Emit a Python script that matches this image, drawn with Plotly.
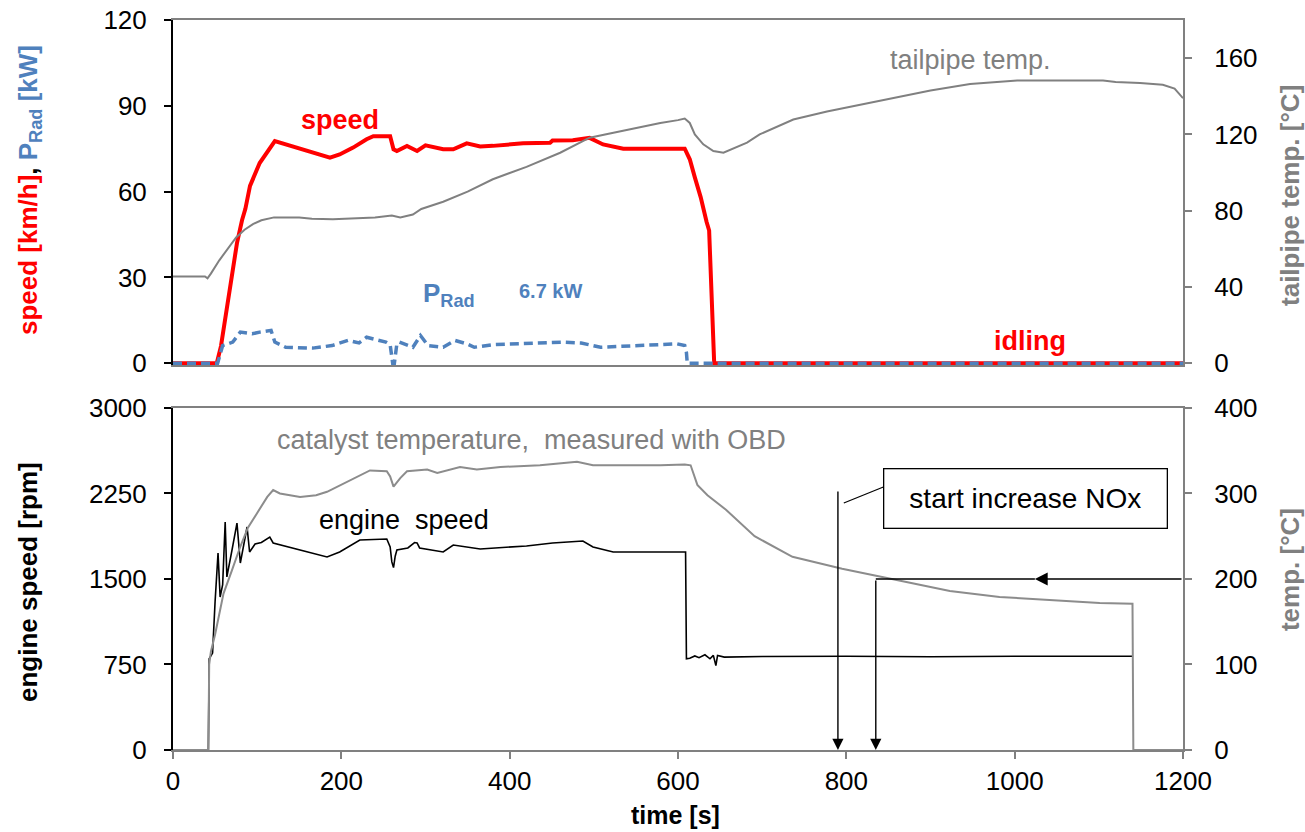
import plotly.graph_objects as go

# ---------------- data ----------------
# top panel: vehicle speed [km/h]
speed_t = [0, 52, 57, 63, 69, 76, 82, 86, 91.5, 103, 121, 135, 159, 186.5, 198, 214, 230, 238, 258, 262, 266,
           278, 290, 300, 321, 333, 349, 365, 380, 416, 448, 451, 475, 495, 511, 520, 535, 608, 614, 620,
           627, 634, 637, 643, 1200]
speed_v = [0, 0, 6, 18, 30, 42, 50, 54, 62, 70, 77.7, 76.5, 74.2, 71.9, 73, 75.4, 78.3, 79.4, 79.4, 74.8, 74.2,
           76, 74.2, 76.2, 74.8, 74.8, 76.9, 75.8, 76, 76.9, 77.1, 77.9, 78, 78.8, 76.5, 76, 75, 75, 71.3, 65,
           58, 49.4, 46.4, 0, 0]

# top panel: radiator power P_Rad [kW]
prad_t = [0, 53, 59, 71, 80, 94, 103, 116.5, 121, 134, 166, 189, 208, 221, 230, 253, 258, 261, 263, 266,
          269, 285, 294, 303, 321, 335, 349, 358, 380, 417, 462, 485, 508, 554, 576, 599, 608, 610, 611, 1200]
prad_v = [0, 0, 6.2, 7.4, 10.9, 10.3, 10.9, 11.5, 7.4, 5.6, 5.3, 6.2, 8.0, 7.1, 9.1, 7.4, 6.5, 0, 0, 6.8,
          7.4, 5.6, 9.7, 6.2, 5.6, 8.0, 6.8, 5.6, 6.5, 6.8, 7.4, 7.1, 5.6, 6.2, 6.5, 6.8, 6.2, 3.8, 0, 0]

# top panel: tailpipe temperature [°C]
tail_t = [0, 38, 41, 45, 55, 65, 75, 85, 95, 105, 120, 150, 165, 190, 210, 240, 260, 270, 285, 295, 321,
          350, 380, 420, 460, 495, 519, 579, 600, 608, 614, 620, 630, 642, 654, 670, 682, 697, 737, 777,
          816, 860, 900, 947, 1003, 1105, 1120, 1149, 1176, 1190, 1200]
tail_v = [45.5, 45.5, 44.5, 47, 54, 60, 66, 70, 73, 75, 76.5, 76.5, 75.8, 75.5, 76, 76.5, 77.5, 76.5, 78, 80.9,
          84.7, 90, 96.5, 103, 110.4, 118.3, 120.5, 126, 127.5, 128.3, 126, 120, 114.8, 111.3, 110.4, 113.2,
          115.7, 120, 127.8, 132, 135.6, 139.5, 143, 146.4, 148.3, 148.3, 147.5, 147, 146, 144, 139]

# bottom panel: engine speed [rpm]
eng_t = [0, 42, 43, 47, 50, 53.5, 56, 59, 62, 64, 70, 76, 80, 84, 88, 91, 97.5, 105, 115, 119, 143, 165,
         183, 198, 222, 254, 258, 260, 262, 264, 266, 279, 287, 290, 293, 321, 333, 365, 420, 451, 487,
         499, 523, 609, 610, 614, 620, 625, 632, 638, 642, 645, 647, 655, 700, 800, 900, 1000, 1100, 1140]
eng_v = [0, 0, 800, 850, 1300, 1727, 1342, 1450, 2000, 1518, 1750, 1991, 1640, 1800, 1956, 1737, 1807, 1820,
         1868, 1816, 1772, 1730, 1693, 1737, 1842, 1851, 1781, 1650, 1600, 1700, 1754, 1772, 1820, 1816,
         1772, 1737, 1798, 1763, 1790, 1816, 1833, 1781, 1737, 1737, 800, 805, 825, 810, 835, 800, 830, 740,
         830, 815, 820, 822, 818, 822, 820, 822]

# bottom panel: catalyst temperature (OBD) [°C]
cat_t = [0, 42, 43, 45, 50, 60, 70, 80, 89, 103, 112, 119, 127, 151, 170, 183, 207, 234, 254, 258, 262, 270,
         278, 302, 314, 341, 361, 389, 436, 480, 499, 579, 608, 615, 623, 635, 657, 691, 736, 795, 844, 923,
         982, 1056, 1101, 1140, 1141, 1200]
cat_v = [0, 0, 100, 115, 135, 183, 210, 238, 260, 281, 296, 304, 300, 296, 298, 302, 314, 327, 326, 320, 308,
         318, 326, 328, 324, 331, 328, 331, 333, 337, 333, 333, 334, 333, 310, 298, 281, 250, 226, 212, 202,
         186, 179, 175, 172, 171, 0, 0]

x_ticks = [0, 200, 400, 600, 800, 1000, 1200]
speed_ticks = [0, 30, 60, 90, 120]
tail_ticks = [0, 40, 80, 120, 160]
rpm_ticks = [0, 750, 1500, 2250, 3000]
temp_ticks = [0, 100, 200, 300, 400]

# NOx markers
nox_t1, nox_t2 = 790, 835
nox_temp = 200

RED = "#FF0000"
BLUE = "#4F81BD"
GREY = "#808080"
FONT = "Arial, Liberation Sans, sans-serif"

fig = go.Figure()
fig.add_trace(go.Scatter(x=speed_t, y=speed_v, xaxis="x2", yaxis="y", mode="lines",
                         line=dict(color=RED, width=4), name="speed"))
fig.add_trace(go.Scatter(x=prad_t, y=prad_v, xaxis="x2", yaxis="y", mode="lines",
                         line=dict(color=BLUE, width=3.5, dash="9px,5px"), name="P_Rad"))
fig.add_trace(go.Scatter(x=tail_t, y=tail_v, xaxis="x2", yaxis="y2", mode="lines",
                         line=dict(color=GREY, width=2), name="tailpipe temp."))
fig.add_trace(go.Scatter(x=eng_t, y=eng_v, xaxis="x", yaxis="y3", mode="lines",
                         line=dict(color="black", width=1.6), name="engine speed"))
fig.add_trace(go.Scatter(x=cat_t, y=cat_v, xaxis="x", yaxis="y4", mode="lines",
                         line=dict(color="#8C8C8C", width=2), name="catalyst temp."))

TS = 26
tickfont = dict(family=FONT, size=TS, color="black")
top_dom = [0.5274, 1.0]
bot_dom = [0.0, 0.4685]

fig.update_layout(
    width=1305, height=832,
    margin=dict(l=173, r=122, t=20, b=82, autoexpand=False),
    paper_bgcolor="white", plot_bgcolor="white",
    showlegend=False,
    font=dict(family=FONT, size=TS, color="black"),
    xaxis=dict(domain=[0, 1], anchor="y3", range=[0, 1200], tickvals=x_ticks, showgrid=False,
               zeroline=False, showline=True, linecolor=GREY, linewidth=2, mirror=True,
               ticks="outside", ticklen=7, tickcolor=GREY, tickwidth=1.5, tickfont=tickfont,
               layer="below traces", automargin=False),
    xaxis2=dict(domain=[0, 1], anchor="y", matches="x", range=[0, 1200], showticklabels=False,
                showgrid=False, zeroline=False, showline=True, linecolor=GREY, linewidth=2,
                mirror=True, ticks="", layer="below traces", automargin=False),
    yaxis=dict(domain=top_dom, anchor="x2", range=[-0.6, 120], tickvals=speed_ticks, showgrid=False,
               zeroline=False, showline=True, linecolor="black", linewidth=2, ticks="outside",
               ticklen=7, tickcolor="black", tickwidth=1.5, tickfont=tickfont, ticklabelstandoff=12,
               layer="below traces", automargin=False),
    yaxis2=dict(domain=top_dom, anchor="x2", overlaying="y", side="right", range=[-0.9, 180],
                tickvals=tail_ticks, showgrid=False, zeroline=False, showline=True, linecolor=GREY,
                linewidth=2, ticks="outside", ticklen=7, tickcolor=GREY, tickwidth=1.5,
                tickfont=tickfont, ticklabelstandoff=17, layer="below traces", automargin=False),
    yaxis3=dict(domain=bot_dom, anchor="x", range=[0, 3000], tickvals=rpm_ticks, showgrid=False,
                zeroline=False, showline=True, linecolor="black", linewidth=2, ticks="outside",
                ticklen=7, tickcolor="black", tickwidth=1.5, tickfont=tickfont, ticklabelstandoff=12,
                layer="below traces", automargin=False),
    yaxis4=dict(domain=bot_dom, anchor="x", overlaying="y3", side="right", range=[0, 400],
                tickvals=temp_ticks, showgrid=False, zeroline=False, showline=True, linecolor=GREY,
                linewidth=2, ticks="outside", ticklen=7, tickcolor=GREY, tickwidth=1.5,
                tickfont=tickfont, ticklabelstandoff=17, layer="below traces", automargin=False),
)

C = dict(xanchor="center", yanchor="middle")
ann = []
# axis titles
ann.append(dict(xref="paper", yref="paper", x=-0.1426, y=0.767, textangle=-90, showarrow=False,
                text='<b><span style="color:#FF0000">speed [km/h]</span>, '
                     '<span style="color:#4F81BD">P<sub>Rad</sub> [kW]</span></b>',
                font=dict(family=FONT, size=26, color="black"), **C))
ann.append(dict(xref="paper", yref="paper", x=1.106, y=0.759, textangle=-90, showarrow=False,
                text="<b>tailpipe temp. [°C]</b>", font=dict(family=FONT, size=26, color=GREY), **C))
ann.append(dict(xref="paper", yref="paper", x=-0.1436, y=0.23, textangle=-90, showarrow=False,
                text="<b>engine speed [rpm]</b>", font=dict(family=FONT, size=26, color="black"), **C))
ann.append(dict(xref="paper", yref="paper", x=1.106, y=0.2466, textangle=-90, showarrow=False,
                text="<b>temp. [°C]</b>", font=dict(family=FONT, size=26, color=GREY), **C))
ann.append(dict(xref="paper", yref="paper", x=0.498, y=-0.089, showarrow=False,
                text="<b>time [s]</b>", font=dict(family=FONT, size=25, color="black"), **C))

# in-plot labels
ann.append(dict(xref="x2", yref="y", x=198, y=85.2, showarrow=False, text="<b>speed</b>",
                font=dict(family=FONT, size=27, color=RED), **C))
ann.append(dict(xref="x2", yref="y", x=328, y=24.0, showarrow=False, text="<b>P<sub>Rad</sub></b>",
                font=dict(family=FONT, size=26, color=BLUE), **C))
ann.append(dict(xref="x2", yref="y", x=448, y=25.4, showarrow=False, text="<b>6.7 kW</b>",
                font=dict(family=FONT, size=20, color=BLUE), **C))
ann.append(dict(xref="x2", yref="y", x=1018, y=7.65, showarrow=False, text="<b>idling</b>",
                font=dict(family=FONT, size=27, color=RED), **C))
ann.append(dict(xref="x2", yref="y2", x=948, y=159, showarrow=False, text="tailpipe temp.",
                font=dict(family=FONT, size=27, color=GREY), **C))
ann.append(dict(xref="x", yref="y3", x=426.5, y=2719, showarrow=False,
                text="catalyst temperature,\u00a0 measured with OBD",
                font=dict(family=FONT, size=27, color=GREY), **C))
ann.append(dict(xref="x", yref="y3", x=274.5, y=2018, showarrow=False, text="engine\u00a0 speed",
                font=dict(family=FONT, size=27, color="black"), **C))

# NOx callout box
ann.append(dict(xref="x", yref="y3", x=1013, y=2210, showarrow=False, text="start increase NOx",
                font=dict(family=FONT, size=28, color="black"), bordercolor="black", borderwidth=1.3,
                borderpad=3, width=276, height=52, bgcolor="white", **C))

rpm_at_200 = nox_temp / 400 * 3000
# vertical arrows
ann.append(dict(xref="x", yref="y3", axref="x", ayref="y3", x=nox_t1, y=0, ax=nox_t1, ay=2280,
                showarrow=True, arrowhead=2, arrowsize=1.6, arrowwidth=1.4, arrowcolor="black", text=""))
ann.append(dict(xref="x", yref="y3", axref="x", ayref="y3", x=nox_t2, y=0, ax=nox_t2, ay=rpm_at_200,
                showarrow=True, arrowhead=2, arrowsize=1.6, arrowwidth=1.4, arrowcolor="black", text=""))
# horizontal arrow at 200 °C
ann.append(dict(xref="x", yref="y3", axref="x", ayref="y3", x=1024, y=rpm_at_200, ax=1200, ay=rpm_at_200,
                showarrow=True, arrowhead=2, arrowsize=1.6, arrowwidth=1.6, arrowcolor="black", text=""))

fig.update_layout(annotations=ann)

fig.update_layout(shapes=[
    dict(type="line", xref="x", yref="y3", x0=nox_t2, x1=1024, y0=rpm_at_200, y1=rpm_at_200,
         line=dict(color="black", width=1.6)),
    dict(type="line", xref="x", yref="y3", x0=797, x1=844, y0=2167, y1=2307,
         line=dict(color="black", width=1.2)),
])

fig.write_html("out.html", config={"displayModeBar": False},
               post_script="document.body.style.margin='0';")
